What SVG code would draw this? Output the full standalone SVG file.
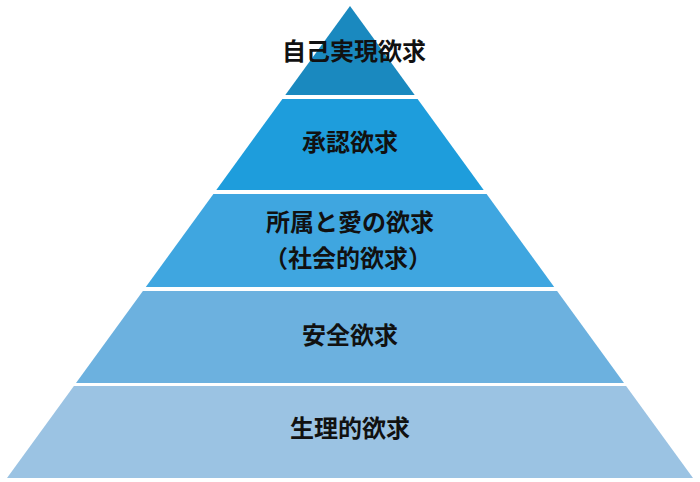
<svg xmlns="http://www.w3.org/2000/svg" width="700" height="482" viewBox="0 0 700 482">
<style>
.t{font-family:"Noto Sans CJK JP","Noto Sans CJK SC",sans-serif;font-size:24px;font-weight:bold;fill:#111;text-anchor:middle}
</style>
<rect width="700" height="482" fill="#fff"/>
<g id="level5">
<polygon points="73.9,386 626.1,386 693,478 7,478" fill="#9bc3e3"/>
<text class="t" x="350" y="437">生理的欲求</text>
</g>
<g id="level4">
<polygon points="142.9,291 557.1,291 624,383 76,383" fill="#6cb1df"/>
<text class="t" x="350" y="344">安全欲求</text>
</g>
<g id="level3">
<polygon points="213.4,194 486.6,194 554.2,287 145.8,287" fill="#3fa6e0"/>
<text class="t" x="350" y="231">所属と愛の欲求</text>
<text class="t" x="348" y="267">（社会的欲求）</text>
</g>
<g id="level2">
<polygon points="282.4,99 417.6,99 483.7,190 216.3,190" fill="#1e9ddc"/>
<text class="t" x="350" y="151">承認欲求</text>
</g>
<g id="level1">
<polygon points="350,6 414.7,95 285.3,95" fill="#1a89bf"/>
<text class="t" x="354" y="60">自己実現欲求</text>
</g>
<g id="connectors"/>
</svg>
